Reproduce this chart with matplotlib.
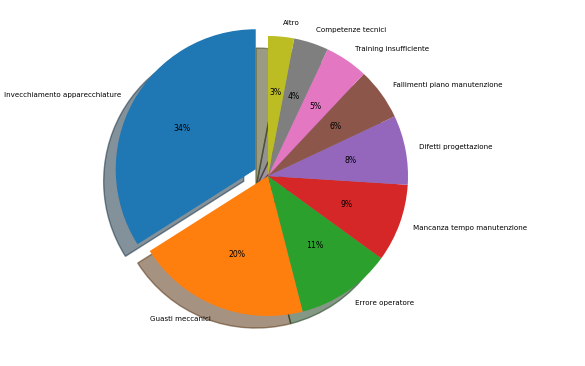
import matplotlib
matplotlib.use("Agg")
import matplotlib.pyplot as plt

labels = [
    "Invecchiamento apparecchiature",
    "Guasti meccanici",
    "Errore operatore",
    "Mancanza tempo manutenzione",
    "Difetti progettazione",
    "Fallimenti piano manutenzione",
    "Training insufficiente",
    "Competenze tecnici",
    "Altro",
]
sizes = [34, 20, 11, 9, 8, 6, 5, 4, 3]
explode = [0.1, 0, 0, 0, 0, 0, 0, 0, 0]


def main():
    fig = plt.figure(figsize=(5.85, 3.66), dpi=100)
    # axes placed so the pie centre and radius match the reference
    ax = fig.add_axes([93 / 585, 15 / 366, 350 / 585, 350 / 366])
    wedges, texts, autotexts = ax.pie(
        sizes,
        labels=labels,
        explode=explode,
        autopct="%1.0f%%",
        startangle=90,
        shadow={"ox": -0.062, "oy": -0.062},
    )
    for t in texts:
        t.set_fontsize(5.1)
    for t in autotexts:
        t.set_fontsize(5.6)
    ax.set_xlim(-1.25, 1.25)
    ax.set_ylim(-1.25, 1.25)
    ax.set_aspect("equal")
    fig.savefig("out.png", dpi=100)


if __name__ == "__main__":
    main()
